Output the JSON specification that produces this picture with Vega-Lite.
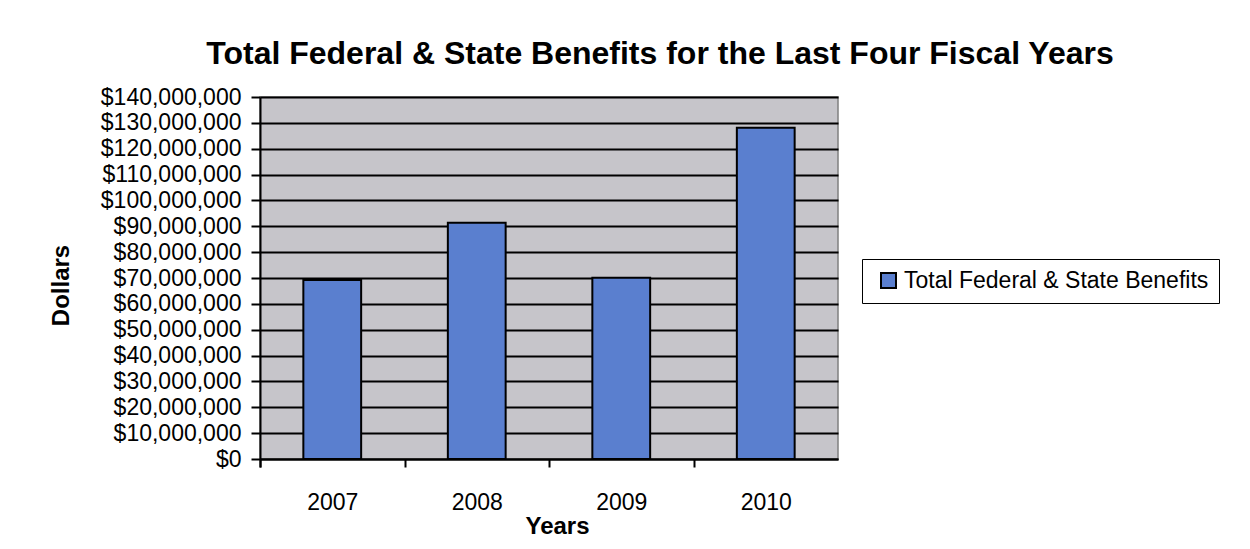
{
  "$schema": "https://vega.github.io/schema/vega-lite/v6.json",
  "width": 578,
  "height": 362,
  "autosize": {"type": "none"},
  "padding": {"left": 260, "top": 97, "right": 412, "bottom": 90},
  "background": "white",
  "title": {
    "text": "Total Federal & State Benefits for the Last Four Fiscal Years",
    "font": "Liberation Sans",
    "fontSize": 32,
    "fontWeight": "bold",
    "color": "black",
    "anchor": "middle",
    "dx": 111,
    "offset": 15
  },
  "data": {
    "values": [
      {"Year": "2007", "Benefits": 69200000, "Series": "Total Federal & State Benefits"},
      {"Year": "2008", "Benefits": 91400000, "Series": "Total Federal & State Benefits"},
      {"Year": "2009", "Benefits": 70100000, "Series": "Total Federal & State Benefits"},
      {"Year": "2010", "Benefits": 128100000, "Series": "Total Federal & State Benefits"}
    ]
  },
  "mark": {"type": "bar", "stroke": "black", "strokeWidth": 2},
  "encoding": {
    "x": {
      "field": "Year",
      "type": "nominal",
      "scale": {"paddingInner": 0.6, "paddingOuter": 0.3},
      "axis": {
        "title": "Years",
        "labelAngle": 0,
        "labelFont": "Liberation Sans",
        "labelFontSize": 23,
        "labelColor": "black",
        "labelPadding": 24,
        "bandPosition": 0,
        "tickExtra": true,
        "tickOffset": -43.35,
        "labelOffset": 43.35,
        "tickSize": 8,
        "tickColor": "black",
        "tickWidth": 2,
        "domainColor": "black",
        "domainWidth": 2,
        "titleFont": "Liberation Sans",
        "titleFontSize": 24,
        "titleFontWeight": "bold",
        "titleColor": "black",
        "titlePadding": 0,
        "titleX": 297,
        "grid": false
      }
    },
    "y": {
      "field": "Benefits",
      "type": "quantitative",
      "scale": {"domain": [0, 140000000], "nice": false},
      "axis": {
        "title": "Dollars",
        "values": [0, 10000000, 20000000, 30000000, 40000000, 50000000, 60000000, 70000000, 80000000, 90000000, 100000000, 110000000, 120000000, 130000000, 140000000],
        "format": "$,.0f",
        "labelFont": "Liberation Sans",
        "labelFontSize": 23,
        "labelColor": "black",
        "labelPadding": 10,
        "tickSize": 9,
        "tickColor": "black",
        "tickWidth": 2,
        "domainColor": "black",
        "domainWidth": 2,
        "grid": true,
        "gridColor": "black",
        "gridWidth": 2,
        "titleFont": "Liberation Sans",
        "titleFontSize": 24,
        "titleFontWeight": "bold",
        "titleColor": "black",
        "titleAngle": -90,
        "titleAlign": "center",
        "titleBaseline": "middle",
        "titleX": -199,
        "titleY": 188
      }
    },
    "color": {
      "field": "Series",
      "type": "nominal",
      "scale": {"range": ["#5a7fcf"]},
      "legend": {
        "title": null,
        "orient": "none",
        "legendX": 602,
        "legendY": 162,
        "symbolType": "square",
        "symbolSize": 225,
        "symbolStrokeColor": "black",
        "symbolStrokeWidth": 2,
        "symbolOffset": 5,
        "labelFont": "Liberation Sans",
        "labelFontSize": 23,
        "labelColor": "black",
        "labelOffset": 4,
        "labelLimit": 500,
        "padding": 10,
        "strokeColor": "black",
        "fillColor": "white"
      }
    }
  },
  "config": {
    "view": {"fill": "#c6c5ca", "stroke": "#808080", "strokeWidth": 1.5}
  }
}
